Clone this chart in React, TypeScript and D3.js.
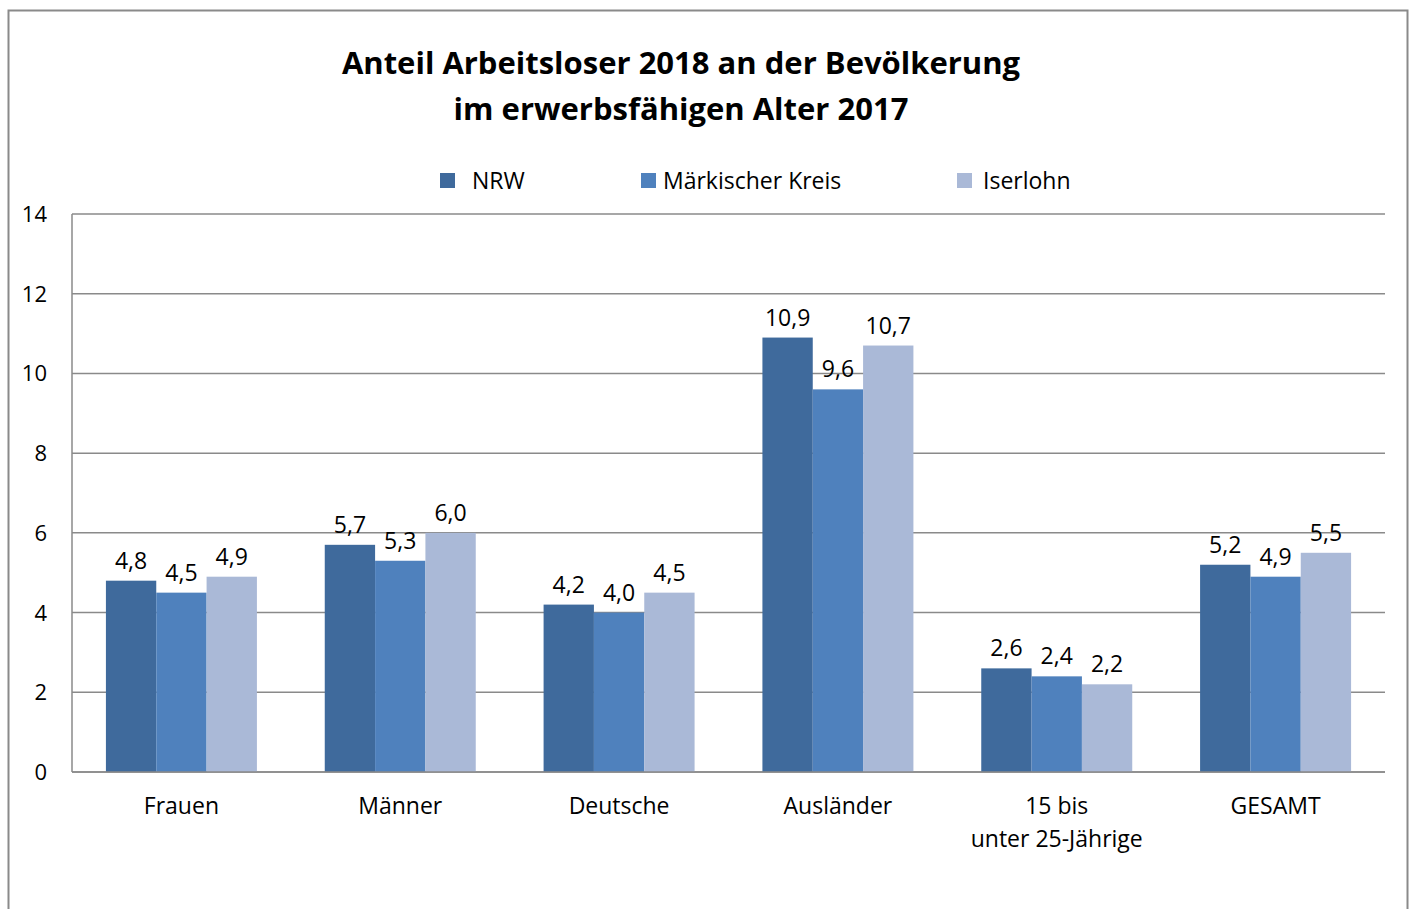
import React, { useEffect, useRef } from 'react';
import * as d3 from 'd3';

// chart data
const categories = ['Frauen', 'Männer', 'Deutsche', 'Ausländer', '15 bis\nunter 25-Jährige', 'GESAMT'];
const seriesNames = ['NRW', 'Märkischer Kreis', 'Iserlohn'];
const nrwValues = [4.8, 5.7, 4.2, 10.9, 2.6, 5.2];
const mkValues = [4.5, 5.3, 4.0, 9.6, 2.4, 4.9];
const iserlohnValues = [4.9, 6.0, 4.5, 10.7, 2.2, 5.5];
const yTicks = [0, 2, 4, 6, 8, 10, 12, 14];
const titleLines = ['Anteil Arbeitsloser 2018 an der Bevölkerung', 'im erwerbsfähigen Alter 2017'];

const colors = ['#3f6a9c', '#4f81bd', '#aab9d7'];
const FONT = "'Open Sans', 'Noto Sans', sans-serif";

const App: React.FC = () => {
  const svgRef = useRef<SVGSVGElement | null>(null);

  useEffect(() => {
    if (!svgRef.current) return;
    const svg = d3.select(svgRef.current);
    svg.selectAll('*').remove();

    const W = 1411;
    const H = 909;
    const left = 72, right = 1385, top = 214, bottom = 772;

    const series = [nrwValues, mkValues, iserlohnValues];

    const x = d3.scaleBand<string>()
      .domain(categories)
      .range([left, right])
      .paddingInner(0.31)
      .paddingOuter(0.155);

    const xs = d3.scaleBand<string>()
      .domain(seriesNames)
      .range([0, x.bandwidth()])
      .padding(0);

    const y = d3.scaleLinear().domain([0, 14]).range([bottom, top]);

    svg.attr('width', W).attr('height', H);

    // outer frame
    svg.append('rect')
      .attr('x', 8.5).attr('y', 10.5)
      .attr('width', 1399).attr('height', 1000)
      .attr('fill', '#fff')
      .attr('stroke', '#8a8a8a')
      .attr('stroke-width', 2);

    // title
    svg.append('g').selectAll('text')
      .data(titleLines)
      .enter().append('text')
      .attr('x', 681)
      .attr('y', (_d, i) => 74 + i * 46)
      .attr('text-anchor', 'middle')
      .style('font-family', FONT)
      .style('font-weight', 'bold')
      .style('font-size', '31px')
      .text(d => d);

    // legend
    const legendX = [440, 641, 957];
    const legendTextX = [472, 663, 983];
    const lg = svg.append('g');
    seriesNames.forEach((name, i) => {
      lg.append('rect')
        .attr('x', legendX[i]).attr('y', 173)
        .attr('width', 15).attr('height', 15)
        .attr('fill', colors[i]);
      lg.append('text')
        .attr('x', legendTextX[i]).attr('y', 189)
        .style('font-family', FONT)
        .style('font-size', '23px')
        .attr('fill', '#000')
        .text(name);
    });

    // gridlines
    svg.append('g')
      .selectAll('line')
      .data(yTicks)
      .enter().append('line')
      .attr('x1', left)
      .attr('x2', right)
      .attr('y1', d => y(d))
      .attr('y2', d => y(d))
      .attr('stroke', '#8a8a8a')
      .attr('stroke-width', 1.5);

    // y-axis line
    svg.append('line')
      .attr('x1', left).attr('x2', left)
      .attr('y1', top).attr('y2', bottom)
      .attr('stroke', '#8a8a8a')
      .attr('stroke-width', 1.5);

    // y tick labels
    svg.append('g')
      .selectAll('text')
      .data(yTicks)
      .enter().append('text')
      .attr('x', 47)
      .attr('y', d => y(d) + 8)
      .attr('text-anchor', 'end')
      .style('font-family', FONT)
      .style('font-size', '22px')
      .text(d => String(d));

    // bars + value labels
    const fmt = (v: number) => v.toFixed(1).replace('.', ',');
    series.forEach((vals, si) => {
      const g = svg.append('g');
      g.selectAll('rect')
        .data(vals)
        .enter().append('rect')
        .attr('x', (_d, i) => (x(categories[i]) ?? 0) + (xs(seriesNames[si]) ?? 0))
        .attr('y', d => y(d))
        .attr('width', xs.bandwidth())
        .attr('height', d => bottom - y(d))
        .attr('fill', colors[si]);
      g.selectAll('text')
        .data(vals)
        .enter().append('text')
        .attr('x', (_d, i) => (x(categories[i]) ?? 0) + (xs(seriesNames[si]) ?? 0) + xs.bandwidth() / 2)
        .attr('y', d => y(d) - 12)
        .attr('text-anchor', 'middle')
        .style('font-family', FONT)
        .style('font-size', '23px')
        .text(d => fmt(d));
    });

    // redraw baseline over bars
    svg.append('line')
      .attr('x1', left).attr('x2', right)
      .attr('y1', bottom).attr('y2', bottom)
      .attr('stroke', '#8a8a8a')
      .attr('stroke-width', 1.5);

    // category labels
    const cg = svg.append('g');
    categories.forEach(c => {
      const cx = (x(c) ?? 0) + x.bandwidth() / 2;
      c.split('\n').forEach((line, li) => {
        cg.append('text')
          .attr('x', cx)
          .attr('y', 814 + li * 33)
          .attr('text-anchor', 'middle')
          .style('font-family', FONT)
          .style('font-size', '23px')
          .text(line);
      });
    });
  }, []);

  return (
    <svg
      ref={svgRef}
      width={1411}
      height={909}
      style={{ position: 'absolute', left: 0, top: 0, display: 'block' }}
    />
  );
};

export default App;
